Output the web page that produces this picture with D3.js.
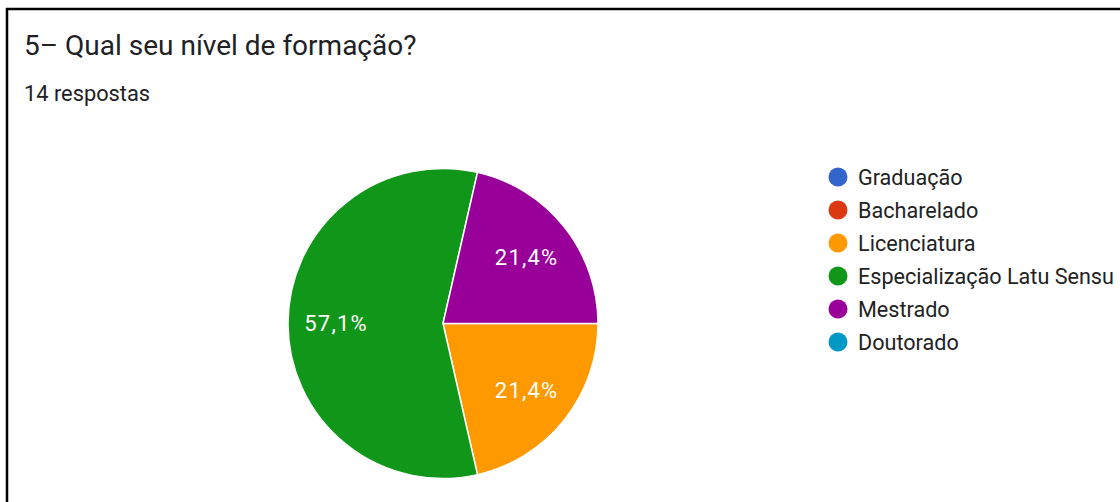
<!DOCTYPE html>
<html><head><meta charset="utf-8">
<script src="https://cdn.jsdelivr.net/npm/d3@7"></script>
<style>body{margin:0;background:#fff}svg{display:block}</style>
</head><body>
<script>
const categories = ["Graduação","Bacharelado","Licenciatura","Especialização Latu Sensu","Mestrado","Doutorado"];
const counts = [0,0,3,8,3,0];
const colors = ["#3366cc","#dc3912","#ff9900","#109618","#990099","#0099c6"];
const title = "5– Qual seu nível de formação?";
const subtitle = "14 respostas";

const W=1120,H=502;
const svg=d3.select("body").append("svg").attr("width",W).attr("height",H);
svg.append("rect").attr("x",7).attr("y",9).attr("width",W+20).attr("height",H+20)
  .attr("fill","none").attr("stroke","#000").attr("stroke-width",2.5);

svg.append("text").attr("x",24).attr("y",55).text(title)
  .attr("font-family","Roboto").attr("font-size",28).attr("fill","#202124");
svg.append("text").attr("x",24).attr("y",101).text(subtitle)
  .attr("font-family","Roboto").attr("font-size",21.8).attr("fill","#202124");

const cx=443, cy=323.5, r=155;
const data=categories.map((c,i)=>({c,v:counts[i],col:colors[i]}));
const pie=d3.pie().value(d=>d.v).sort(null).startAngle(Math.PI/2).endAngle(Math.PI/2+2*Math.PI);
const arcs=pie(data).filter(d=>d.data.v>0);
const arc=d3.arc().innerRadius(0).outerRadius(r);
const g=svg.append("g").attr("transform",`translate(${cx},${cy})`);
g.selectAll("path").data(arcs).join("path").attr("d",arc).attr("fill",d=>d.data.col)
  .attr("stroke","#fff").attr("stroke-width",1.5);
const total=d3.sum(counts);
const fmt=v=>(v/total*100).toFixed(1).replace(".",",")+"%";
const labelArc=d3.arc().innerRadius(r*0.69).outerRadius(r*0.69);
g.selectAll("text").data(arcs).join("text")
  .attr("transform",d=>`translate(${labelArc.centroid(d)})`)
  .attr("text-anchor","middle").attr("dy","0.35em")
  .attr("font-family","Roboto").attr("font-size",22).attr("letter-spacing",1.2).attr("fill","#fff")
  .text(d=>fmt(d.data.v));

const lg=svg.append("g").attr("transform","translate(838,177)");
const row=lg.selectAll("g").data(data).join("g").attr("transform",(d,i)=>`translate(0,${i*33})`);
row.append("circle").attr("r",9.5).attr("fill",d=>d.col);
row.append("text").attr("x",20).attr("dy","0.35em").text(d=>d.c)
  .attr("font-family","Roboto").attr("font-size",21.6).attr("fill","#222");
</script>
</body></html>
